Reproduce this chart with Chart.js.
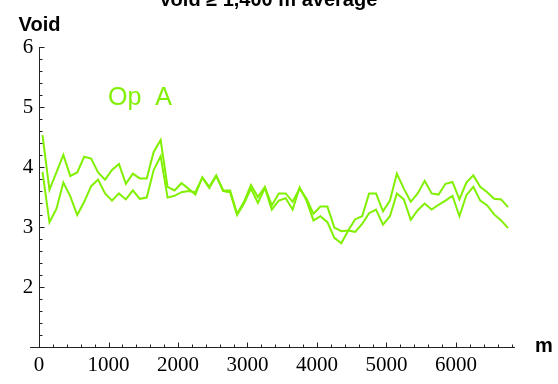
<!DOCTYPE html>
<html>
<head>
<meta charset="utf-8">
<script src="https://cdn.jsdelivr.net/npm/chart.js@4/dist/chart.umd.min.js"></script>
<style>
  html, body { margin: 0; padding: 0; background: #fff; }
  #wrap { width: 558px; height: 384px; }
</style>
</head>
<body>
<div id="wrap"><canvas id="c" width="558" height="384"></canvas></div>
<script>
// Distance along the section (m), midpoint of each 100 m bin
const distances = [
  50, 150, 250, 350, 450, 550, 650, 750, 850, 950,
  1050, 1150, 1250, 1350, 1450, 1550, 1650, 1750, 1850, 1950,
  2050, 2150, 2250, 2350, 2450, 2550, 2650, 2750, 2850, 2950,
  3050, 3150, 3250, 3350, 3450, 3550, 3650, 3750, 3850, 3950,
  4050, 4150, 4250, 4350, 4450, 4550, 4650, 4750, 4850, 4950,
  5050, 5150, 5250, 5350, 5450, 5550, 5650, 5750, 5850, 5950,
  6050, 6150, 6250, 6350, 6450, 6550, 6650, 6750
];

// Void values, first run
const voidRun1 = [
  4.53, 3.62, 3.91, 4.20, 3.85, 3.91, 4.17, 4.14, 3.91, 3.79,
  3.95, 4.05, 3.72, 3.89, 3.81, 3.81, 4.25, 4.45, 3.67, 3.61,
  3.73, 3.64, 3.54, 3.83, 3.67, 3.86, 3.61, 3.61, 3.22, 3.42,
  3.70, 3.50, 3.67, 3.36, 3.56, 3.56, 3.42, 3.64, 3.47, 3.22,
  3.34, 3.34, 2.99, 2.93, 2.94, 2.92, 3.05, 3.23, 3.29, 3.04,
  3.18, 3.56, 3.46, 3.12, 3.28, 3.39, 3.29, 3.37, 3.44, 3.52,
  3.18, 3.53, 3.67, 3.44, 3.36, 3.21, 3.11, 2.98
];

// Void values, second run
const voidRun2 = [
  3.92, 3.08, 3.30, 3.74, 3.51, 3.20, 3.42, 3.68, 3.79, 3.56,
  3.44, 3.56, 3.46, 3.61, 3.47, 3.49, 3.95, 4.18, 3.49, 3.52,
  3.58, 3.60, 3.58, 3.82, 3.65, 3.85, 3.60, 3.58, 3.20, 3.39,
  3.64, 3.40, 3.65, 3.29, 3.44, 3.48, 3.29, 3.66, 3.44, 3.11,
  3.18, 3.08, 2.82, 2.73, 2.94, 3.13, 3.18, 3.56, 3.56, 3.26,
  3.44, 3.89, 3.64, 3.42, 3.56, 3.77, 3.56, 3.54, 3.72, 3.75,
  3.46, 3.74, 3.86, 3.67, 3.58, 3.47, 3.46, 3.33
];

const xTickValues = [0, 1000, 2000, 3000, 4000, 5000, 6000];
const yTickValues = [2, 3, 4, 5, 6];

const GREEN = 'rgb(128,240,0)';
const AXIS = '#222';
const SERIF = '"Liberation Serif", "Times New Roman", serif';
const SANS = '"Liberation Sans", Arial, sans-serif';

const toPoints = ys => distances.map((d, i) => ({ x: d, y: ys[i] }));

// Axes drawn Mathematica-style: lines through the origin, ticks pointing inward
const axesPlugin = {
  id: 'axesPlugin',
  afterDraw(chart) {
    const { ctx, chartArea, scales: { x, y } } = chart;
    const x0 = Math.round(x.getPixelForValue(0)) + 0.5;
    const yb = Math.round(y.getPixelForValue(y.min)) + 0.5;
    ctx.save();
    ctx.strokeStyle = AXIS;
    ctx.lineWidth = 1;
    ctx.beginPath();
    ctx.moveTo(chartArea.left, yb);
    ctx.lineTo(chartArea.right, yb);
    ctx.moveTo(x0, Math.round(y.getPixelForValue(y.max)));
    ctx.lineTo(x0, yb);
    // x ticks every 200 m, longer every 1000 m
    for (let v = 200; v <= x.max; v += 200) {
      const px = Math.round(x.getPixelForValue(v)) + 0.5;
      const len = v % 1000 === 0 ? 5 : 3;
      ctx.moveTo(px, yb);
      ctx.lineTo(px, yb - len);
    }
    // y ticks every 0.2, longer on whole numbers
    for (let k = 6; k <= 30; k++) {
      const v = k / 5;
      const py = Math.round(y.getPixelForValue(v)) + 0.5;
      const len = k % 5 === 0 ? 5 : 3;
      ctx.moveTo(x0, py);
      ctx.lineTo(x0 + len, py);
    }
    ctx.stroke();

    // axis labels and plot label
    ctx.fillStyle = '#000';
    ctx.font = 'bold 20px ' + SANS;
    ctx.textAlign = 'center';
    ctx.textBaseline = 'alphabetic';
    ctx.fillText('Void', x0, 31);
    ctx.fillText('m', 544, 352);
    ctx.fillText('Void \u2265 1,400 m average', 268, 6);

    // series tag
    ctx.fillStyle = GREEN;
    ctx.font = '25px ' + SANS;
    ctx.textAlign = 'left';
    ctx.fillText('Op  A', 108, 105);
    ctx.restore();
  }
};

new Chart(document.getElementById('c'), {
  type: 'line',
  data: {
    datasets: [
      { label: 'Op A run 1', data: toPoints(voidRun1), borderColor: GREEN, borderWidth: 2, pointRadius: 0, tension: 0, fill: false },
      { label: 'Op A run 2', data: toPoints(voidRun2), borderColor: GREEN, borderWidth: 2, pointRadius: 0, tension: 0, fill: false }
    ]
  },
  options: {
    responsive: false,
    devicePixelRatio: 1,
    animation: false,
    layout: { padding: { left: 30, right: 43, top: 47, bottom: 37 } },
    plugins: { legend: { display: false }, tooltip: { enabled: false }, title: { display: false } },
    scales: {
      x: {
        type: 'linear', min: -130, max: 6850,
        position: { y: 1 },
        grid: { display: false, drawTicks: false },
        border: { display: false },
        ticks: { color: '#000', font: { family: SERIF, size: 21 }, padding: 6, maxRotation: 0, autoSkip: false, callback: v => String(v) },
        afterBuildTicks: s => { s.ticks = xTickValues.map(v => ({ value: v })); }
      },
      y: {
        type: 'linear', min: 1, max: 6,
        // labels sit a few pixels left of the drawn axis line at x = 0
        position: { x: -85 },
        grid: { display: false, drawTicks: false },
        border: { display: false },
        ticks: { color: '#000', font: { family: SERIF, size: 21 }, autoSkip: false, callback: v => String(v) },
        afterBuildTicks: s => { s.ticks = yTickValues.map(v => ({ value: v })); }
      }
    }
  },
  plugins: [axesPlugin]
});
</script>
</body>
</html>
